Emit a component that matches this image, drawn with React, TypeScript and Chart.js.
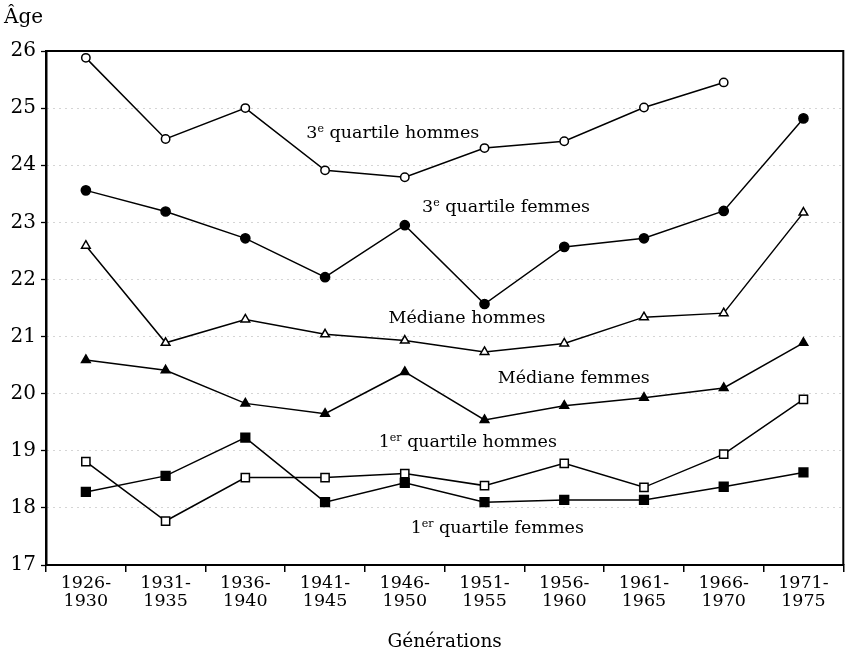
import React, { useEffect, useRef } from "react";
import { Chart, registerables } from "chart.js";

Chart.register(...registerables);

const generations = [
  ["1926-", "1930"], ["1931-", "1935"], ["1936-", "1940"], ["1941-", "1945"], ["1946-", "1950"],
  ["1951-", "1955"], ["1956-", "1960"], ["1961-", "1965"], ["1966-", "1970"], ["1971-", "1975"],
];

const q3Hommes = [25.88, 24.46, 25.0, 23.91, 23.79, 24.3, 24.42, 25.01, 25.45, null];
const q3Femmes = [23.56, 23.19, 22.72, 22.04, 22.95, 21.57, 22.57, 22.72, 23.2, 24.82];
const medHommes = [22.59, 20.89, 21.3, 21.04, 20.93, 20.73, 20.88, 21.34, 21.41, 23.17];
const medFemmes = [20.59, 20.41, 19.83, 19.65, 20.38, 19.54, 19.79, 19.93, 20.1, 20.89];
const q1Hommes = [18.81, 17.77, 18.53, 18.53, 18.6, 18.39, 18.78, 18.36, 18.94, 19.9];
const q1Femmes = [18.28, 18.56, 19.23, 18.1, 18.44, 18.1, 18.14, 18.14, 18.37, 18.62];

const yMin = 17;
const yMax = 26;

// series labels: [main prefix, superscript, rest], anchored in data space (category index, age)
const labelParts = [
  ["3", "e", " quartile hommes"],
  ["3", "e", " quartile femmes"],
  ["Médiane hommes", "", ""],
  ["Médiane femmes", "", ""],
  ["1", "er", " quartile hommes"],
  ["1", "er", " quartile femmes"],
];
const labelIndex = [3.85, 5.27, 4.78, 6.12, 4.79, 5.16];
const labelAge = [24.47, 23.18, 21.23, 20.19, 19.07, 17.56];

const yTitle = "Âge";
const xTitle = "Générations";

const FONT = "'DejaVu Serif', serif";

const annotate = {
  id: "annotate",
  afterDraw(chart: any) {
    const { ctx, chartArea: a, scales } = chart;
    const x = scales.x;
    const y = scales.y;
    ctx.save();
    ctx.strokeStyle = "#000";
    ctx.lineWidth = 2;
    ctx.beginPath();
    ctx.moveTo(a.left, a.top);
    ctx.lineTo(a.right, a.top);
    ctx.lineTo(a.right, a.bottom);
    ctx.stroke();

    ctx.fillStyle = "#000";
    ctx.textBaseline = "alphabetic";
    ctx.textAlign = "left";
    const fs = 17.5;
    const sfs = 11;
    labelParts.forEach((parts, i) => {
      const [p1, sup, p2] = parts;
      ctx.font = `${fs}px ${FONT}`;
      const w1 = ctx.measureText(p1).width;
      const w3 = ctx.measureText(p2).width;
      ctx.font = `${sfs}px ${FONT}`;
      const w2 = sup ? ctx.measureText(sup).width : 0;
      const total = w1 + w2 + w3;
      const cx = x.getPixelForValue(labelIndex[i]);
      const by = y.getPixelForValue(labelAge[i]);
      let sx = cx - total / 2;
      ctx.font = `${fs}px ${FONT}`;
      ctx.fillText(p1, sx, by);
      sx += w1;
      if (sup) {
        ctx.font = `${sfs}px ${FONT}`;
        ctx.fillText(sup, sx, by - 6);
        sx += w2;
      }
      ctx.font = `${fs}px ${FONT}`;
      ctx.fillText(p2, sx, by);
    });

    ctx.font = `20px ${FONT}`;
    ctx.textAlign = "left";
    ctx.fillText(yTitle, 4, 23);
    ctx.font = `18.5px ${FONT}`;
    ctx.textAlign = "center";
    ctx.fillText(xTitle, (a.left + a.right) / 2, 647);
    ctx.restore();
  },
};

function mk(label: string, data: (number | null)[], style: string, filled: boolean, radius: number) {
  return {
    label,
    data,
    borderColor: "#000",
    borderWidth: 1.5,
    pointStyle: style,
    pointRadius: radius,
    pointBorderWidth: 1.5,
    pointBorderColor: "#000",
    pointBackgroundColor: filled ? "#000" : "#fff",
    fill: false,
    tension: 0,
  };
}

export default function App() {
  const ref = useRef<HTMLCanvasElement>(null);
  useEffect(() => {
    document.body.style.margin = "0";
    const canvas = ref.current!;
    const chart = new Chart(canvas, {
      type: "line",
      data: {
        labels: generations,
        datasets: [
          mk("3e quartile hommes", q3Hommes, "circle", false, 4.2),
          mk("3e quartile femmes", q3Femmes, "circle", true, 4.6),
          mk("Médiane hommes", medHommes, "triangle", false, 5),
          mk("Médiane femmes", medFemmes, "triangle", true, 5),
          mk("1er quartile hommes", q1Hommes, "rect", false, 5.8),
          mk("1er quartile femmes", q1Femmes, "rect", true, 6.2),
        ],
      },
      options: {
        responsive: false,
        animation: false,
        layout: { padding: { top: 51, right: 3, left: 0, bottom: 0 } },
        plugins: { legend: { display: false }, tooltip: { enabled: false } },
        scales: {
          x: {
            type: "category",
            offset: true,
            afterFit: (s: any) => { s.height = 89; },
            grid: { drawOnChartArea: false, drawTicks: true, tickLength: 7, offset: true, color: "#000", tickColor: "#000", lineWidth: 1.5 },
            border: { display: true, color: "#000", width: 2 },
            ticks: { color: "#000", font: { family: FONT, size: 17.5, lineHeight: 1.05 }, padding: 2, maxRotation: 0, autoSkip: false },
          },
          y: {
            min: yMin,
            max: yMax,
            afterFit: (s: any) => { s.width = 46; },
            grid: { color: "#aaa", lineWidth: 1, tickLength: 5, tickColor: "#000", tickWidth: 1.3 },
            border: { display: true, color: "#000", width: 2.5, dash: [1, 5] },
            ticks: { stepSize: 1, color: "#000", font: { family: FONT, size: 20 }, padding: 5 },
          },
        },
      },
      plugins: [annotate],
    } as any);
    return () => chart.destroy();
  }, []);
  return <canvas ref={ref} width={851} height={654} style={{ display: "block", width: 851, height: 654 }} />;
}
